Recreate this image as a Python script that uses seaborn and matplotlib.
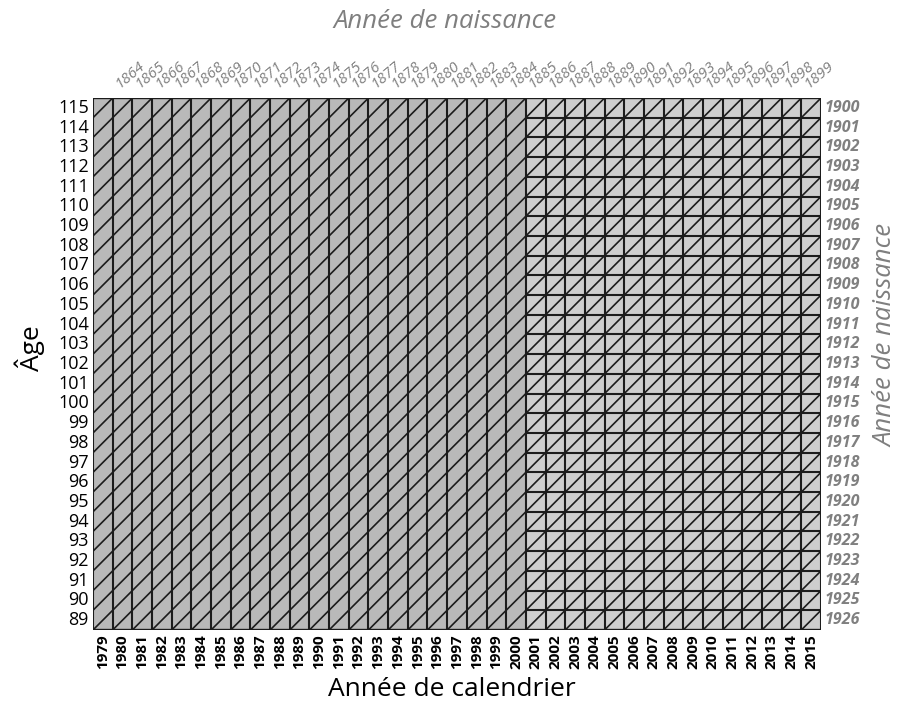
import numpy as np
import pandas as pd
import matplotlib
matplotlib.use("Agg")
import matplotlib.pyplot as plt
from matplotlib.colors import ListedColormap
import seaborn as sns

# ---- data ----
years = list(range(1979, 2016))          # calendar years (columns)
ages = list(range(115, 88, -1))          # ages, top to bottom
split_year = 2001                        # first year with full grid
top_cohorts = list(range(1864, 1900))    # birth years labelled along the top
right_cohorts = list(range(1900, 1927))  # birth years labelled along the right
diag_cohorts = list(range(1864, 1927))   # Lexis diagonals (birth cohorts)

sns.set_theme(style="white")
plt.rcParams['font.family'] = ['Open Sans', 'DejaVu Sans']

fill = pd.DataFrame([[0 if y < split_year else 1 for y in years] for a in ages],
                    index=ages, columns=years)

fig = plt.figure(figsize=(9.04, 7.13), dpi=100)
ax = fig.add_axes([93/904, 1 - 630/713, (821-93)/904, (630-98)/713])
cmap = ListedColormap(['#b9b9b9', '#cecece'])
sns.heatmap(fill, ax=ax, cmap=cmap, cbar=False, vmin=0, vmax=1,
            xticklabels=years, yticklabels=ages, square=False)

ncol, nrow = len(years), len(ages)
lc = '#1c1c1c'
# vertical lines for every year
ax.vlines(np.arange(ncol + 1), 0, nrow, colors=lc, lw=1.5, zorder=3)
# horizontal lines only for the right section
xs = years.index(split_year)
ax.hlines(np.arange(1, nrow), xs, ncol, colors=lc, lw=1.5, zorder=3)
ax.hlines([0, nrow], 0, ncol, colors=lc, lw=1.7, zorder=3)
# Lexis diagonals: year - age = cohort
xx = np.array([0, ncol], dtype=float)
for b in diag_cohorts:
    yy = (b - (years[0] - ages[0] - 1)) - xx
    ax.plot(xx, yy, color=lc, lw=1.2, zorder=3, clip_on=True)
ax.set_xlim(0, ncol)
ax.set_ylim(nrow, 0)

ax.tick_params(axis='both', length=0, pad=3)
for t in ax.get_yticklabels():
    t.set_rotation(0)
    t.set_fontsize(13)
    t.set_color('black')
for t in ax.get_xticklabels():
    t.set_rotation(90)
    t.set_fontsize(11)
    t.set_fontweight('bold')
    t.set_color('black')

# top cohort labels
for b in top_cohorts:
    x = (b + ages[0] + 1) - years[0]
    ax.text(x + 0.5, -0.35, str(b), rotation=40, rotation_mode='anchor',
            ha='left', va='bottom', fontsize=11, style='italic',
            color='#7f7f7f', clip_on=False)
# right cohort labels
for i, b in enumerate(right_cohorts):
    ax.text(ncol + 0.2, i + 0.5, str(b), ha='left', va='center',
            fontsize=11.5, style='italic', fontweight='bold',
            color='#808080', clip_on=False)

ax.set_xlabel('')
ax.set_ylabel('')
fig.text(445/904, 1 - 22/713, 'Année de naissance', ha='center', va='center',
         fontsize=18.5, style='italic', color='#7f7f7f')
fig.text(30/904, 1 - 348/713, 'Âge', ha='center', va='center', rotation=90,
         fontsize=19, color='black')
fig.text(452/904, 1 - 690/713, 'Année de calendrier', ha='center', va='center',
         fontsize=19, color='black')
fig.text(886/904, 1 - 335/713, 'Année de naissance', ha='center', va='center',
         rotation=90, fontsize=18.5, style='italic', color='#7f7f7f')

fig.savefig('out.png', dpi=100)
